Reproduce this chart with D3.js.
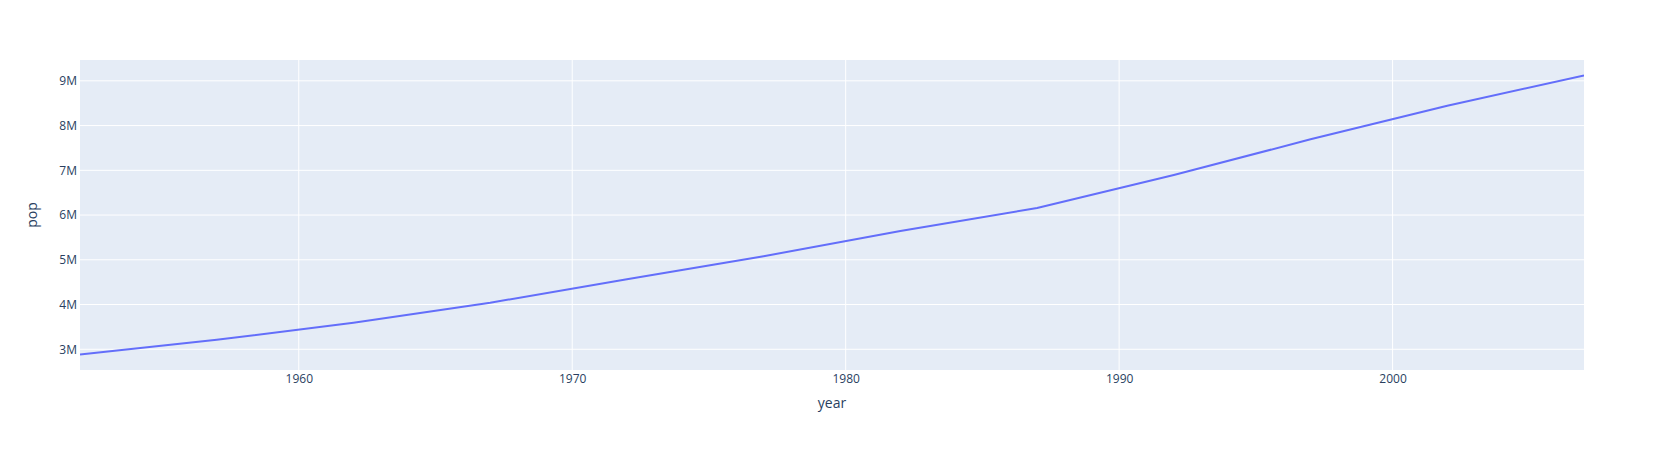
<!DOCTYPE html>
<html><head><meta charset="utf-8">
<script src="https://cdn.jsdelivr.net/npm/d3@7"></script>
<style>body{margin:0;background:#fff}svg text{font-family:"Open Sans",verdana,arial,sans-serif}</style>
</head><body>
<svg id="c" width="1664" height="450"></svg>
<script>
const years = [1952,1957,1962,1967,1972,1977,1982,1987,1992,1997,2002,2007];
const pop = [2883315,3211738,3593918,4040665,4565872,5079716,5642224,6156369,6893451,7693188,8445134,9119152];
const xTicks = [1960,1970,1980,1990,2000];
const yTicks = [3e6,4e6,5e6,6e6,7e6,8e6,9e6];
const yTickLabels = ["3M","4M","5M","6M","7M","8M","9M"];

const W=1664,H=450,m={l:80,r:80,t:60,b:80};
const svg=d3.select("#c");
const pw=W-m.l-m.r, ph=H-m.t-m.b;
const x=d3.scaleLinear().domain(d3.extent(years)).range([m.l,m.l+pw]);
const ymin=d3.min(pop), ymax=d3.max(pop), pad=(ymax-ymin)/0.9*0.05;
const y=d3.scaleLinear().domain([ymin-pad,ymax+pad]).range([m.t+ph,m.t]);

svg.append("rect").attr("x",m.l).attr("y",m.t).attr("width",pw).attr("height",ph).attr("fill","#E5ECF6");
const g=svg.append("g");
g.selectAll(".xg").data(xTicks).join("line").attr("x1",d=>x(d)).attr("x2",d=>x(d)).attr("y1",m.t).attr("y2",m.t+ph).attr("stroke","#fff").attr("stroke-width",1);
g.selectAll(".yg").data(yTicks).join("line").attr("y1",d=>y(d)).attr("y2",d=>y(d)).attr("x1",m.l).attr("x2",m.l+pw).attr("stroke","#fff").attr("stroke-width",1);

const xAxis=d3.axisBottom(x).tickValues(xTicks).tickFormat(d3.format("d")).tickSize(0).tickPadding(4);
const xa=svg.append("g").attr("transform",`translate(0,${m.t+ph})`).call(xAxis);
xa.select(".domain").remove();
xa.selectAll("text").attr("fill","#2a3f5f").attr("font-size",12);
const yAxis=d3.axisLeft(y).tickValues(yTicks).tickFormat((d,i)=>yTickLabels[i]).tickSize(0).tickPadding(3);
const ya=svg.append("g").attr("transform",`translate(${m.l},0)`).call(yAxis);
ya.select(".domain").remove();
ya.selectAll("text").attr("fill","#2a3f5f").attr("font-size",12);

svg.append("clipPath").attr("id","clip").append("rect").attr("x",m.l).attr("y",m.t).attr("width",pw).attr("height",ph);
svg.append("path").datum(years.map((yr,i)=>[yr,pop[i]]))
  .attr("clip-path","url(#clip)")
  .attr("d",d3.line().x(d=>x(d[0])).y(d=>y(d[1])))
  .attr("fill","none").attr("stroke","#636efa").attr("stroke-width",2).attr("stroke-linejoin","round");

svg.append("text").attr("x",m.l+pw/2).attr("y",408).attr("text-anchor","middle").attr("font-size",14).attr("fill","#2a3f5f").text("year");
svg.append("text").attr("transform",`translate(37,${m.t+ph/2}) rotate(-90)`).attr("text-anchor","middle").attr("font-size",14).attr("fill","#2a3f5f").text("pop");
</script>
</body></html>
